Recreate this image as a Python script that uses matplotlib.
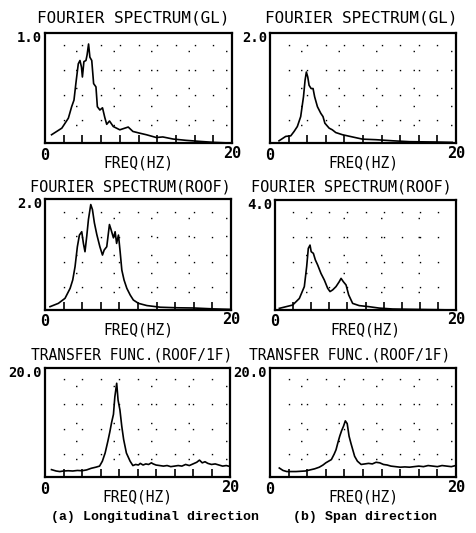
import matplotlib
matplotlib.use('Agg')
import matplotlib.pyplot as plt

# ---------------- data ----------------
titles = ["FOURIER SPECTRUM(GL)", "FOURIER SPECTRUM(GL)",
          "FOURIER SPECTRUM(ROOF)", "FOURIER SPECTRUM(ROOF)",
          "TRANSFER FUNC.(ROOF/1F)", "TRANSFER FUNC.(ROOF/1F)"]
ymax_labels = ["1.0", "2.0", "2.0", "4.0", "20.0", "20.0"]
ymax_values = [1.0, 2.0, 2.0, 4.0, 20.0, 20.0]
captions = ["(a) Longitudinal direction", "(b) Span direction"]
x_label = "FREQ(HZ)"
x_min_label, x_max_label = "0", "20"

gl_long_freq = [0.7, 1.8, 2.5, 2.85, 3.1, 3.3, 3.56, 3.74, 3.9, 4.0, 4.16, 4.38, 4.5, 4.66,
                4.8, 5.0, 5.2, 5.45, 5.6, 5.87, 6.15, 6.4, 6.6, 6.9, 7.3, 8.0, 8.9, 9.4,
                10.1, 10.85, 11.9, 12.6, 13.7, 15.1, 16.5, 18.0, 19.75]
gl_long_amp = [0.075, 0.135, 0.226, 0.33, 0.39, 0.54, 0.72, 0.75, 0.69, 0.60, 0.74, 0.75, 0.80,
               0.90, 0.78, 0.75, 0.54, 0.51, 0.33, 0.30, 0.32, 0.23, 0.17, 0.20, 0.15, 0.12,
               0.145, 0.105, 0.09, 0.075, 0.05, 0.055, 0.036, 0.024, 0.015, 0.006, 0.0]

gl_span_freq = [0.97, 1.69, 2.23, 2.59, 2.94, 3.3, 3.6, 3.77, 3.91, 4.06, 4.2, 4.42, 4.63, 4.8,
                5.1, 5.46, 5.7, 5.9, 6.36, 6.7, 7.07, 7.8, 8.87, 9.95, 11.4, 13.2, 15.0,
                17.8, 19.6]
gl_span_amp = [0.04, 0.12, 0.13, 0.21, 0.30, 0.48, 0.84, 1.14, 1.29, 1.20, 1.05, 0.99, 0.99,
               0.84, 0.66, 0.54, 0.48, 0.36, 0.27, 0.24, 0.19, 0.15, 0.11, 0.07, 0.06, 0.04,
               0.024, 0.018, 0.012]

roof_long_freq = [0.54, 1.44, 2.15, 2.7, 2.98, 3.23, 3.48, 3.7, 3.95, 4.13, 4.3, 4.49, 4.67,
                  4.92, 5.1, 5.31, 5.57, 5.9, 6.18, 6.36, 6.64, 6.93, 7.1, 7.36, 7.54, 7.7,
                  7.9, 8.08, 8.26, 8.5, 8.8, 9.16, 9.5, 10.05, 10.95, 12.4, 14.2, 16.0,
                  18.1, 19.9]
roof_long_amp = [0.06, 0.12, 0.21, 0.39, 0.54, 0.78, 1.14, 1.35, 1.41, 1.20, 1.05, 1.33, 1.63,
                 1.90, 1.81, 1.57, 1.36, 1.14, 0.99, 1.08, 1.14, 1.54, 1.45, 1.30, 1.41, 1.20,
                 1.35, 1.05, 0.72, 0.54, 0.39, 0.27, 0.18, 0.12, 0.08, 0.05, 0.04, 0.036,
                 0.02, 0.012]

roof_span_freq = [0.48, 1.95, 2.69, 3.24, 3.5, 3.68, 3.87, 4.0, 4.24, 4.46, 4.71, 5.08, 5.45,
                  5.82, 6.08, 6.37, 6.74, 7.1, 7.3, 7.55, 7.85, 8.14, 8.58, 9.3, 10.4, 11.5,
                  13.0, 15.2, 17.8, 19.8]
roof_span_amp = [0.06, 0.18, 0.42, 0.85, 1.58, 2.24, 2.36, 2.12, 2.06, 1.82, 1.64, 1.33, 1.09,
                 0.79, 0.67, 0.73, 0.85, 1.03, 1.15, 1.03, 0.91, 0.55, 0.24, 0.16, 0.12, 0.07,
                 0.036, 0.024, 0.012, 0.0]

tf_long_freq = [0.7, 1.2, 1.6, 2.0, 2.5, 3.0, 3.5, 4.0, 4.5, 5.0, 5.5, 5.9, 6.2, 6.5, 6.8, 7.0,
                7.2, 7.4, 7.55, 7.75, 7.9, 8.1, 8.3, 8.5, 8.8, 9.2, 9.5, 9.8, 10.1, 10.3, 10.6,
                10.9, 11.2, 11.5, 11.7, 12.0, 12.4, 12.8, 13.2, 13.6, 14.0, 14.4, 14.8, 15.2,
                15.6, 16.0, 16.4, 16.7, 17.0, 17.3, 17.6, 18.0, 18.4, 18.8, 19.2, 19.6, 19.95]
tf_long_amp = [1.35, 1.1, 1.0, 1.1, 1.15, 1.1, 1.2, 1.15, 1.3, 1.6, 1.8, 2.0, 2.9, 4.4, 6.6,
               8.2, 10.0, 11.5, 14.7, 17.2, 14.1, 12.3, 9.3, 6.9, 4.4, 2.9, 2.1, 2.3, 2.2, 2.5,
               2.2, 2.4, 2.3, 2.6, 2.4, 2.2, 2.1, 2.0, 2.1, 1.9, 2.0, 2.1, 2.0, 2.3, 2.1, 2.4,
               2.7, 3.1, 2.6, 2.8, 2.5, 2.3, 2.4, 2.2, 2.0, 2.1, 1.95]

tf_span_freq = [1.0, 1.4, 1.8, 2.3, 2.8, 3.3, 3.8, 4.3, 4.8, 5.3, 5.7, 6.0, 6.3, 6.6, 6.9, 7.1,
                7.3, 7.5, 7.7, 7.9, 8.1, 8.3, 8.5, 8.7, 8.9, 9.1, 9.4, 9.8, 10.2, 10.6, 11.0,
                11.4, 11.8, 12.2, 12.6, 13.0, 13.5, 14.0, 14.5, 15.0, 15.5, 16.0, 16.5, 17.0,
                17.5, 18.0, 18.5, 19.0, 19.5, 19.95]
tf_span_amp = [1.65, 1.2, 1.0, 1.0, 1.0, 1.05, 1.1, 1.3, 1.5, 1.8, 2.2, 2.6, 2.9, 3.2, 4.2, 5.0,
               6.3, 7.5, 8.5, 9.3, 10.3, 9.8, 7.5, 6.2, 5.0, 3.8, 2.9, 2.3, 2.4, 2.5, 2.4, 2.7,
               2.6, 2.3, 2.2, 2.0, 1.9, 1.8, 1.85, 1.8, 1.9, 2.0, 1.9, 2.1, 2.0, 1.9, 2.1, 2.0,
               1.9, 2.1]

series = [(gl_long_freq, gl_long_amp), (gl_span_freq, gl_span_amp),
          (roof_long_freq, roof_long_amp), (roof_span_freq, roof_span_amp),
          (tf_long_freq, tf_long_amp), (tf_span_freq, tf_span_amp)]

# ---------------- layout ----------------
W, H = 476, 533
fig = plt.figure(figsize=(W / 100, H / 100), dpi=100)
fig.patch.set_facecolor('white')

# pixel boxes (x0, x1, ytop, ybottom)
boxes = [(45, 232, 33, 143), (270, 456, 33, 143),
         (45, 231, 199, 310), (275, 456, 200, 310),
         (45, 230, 368, 477), (270, 456, 368, 477)]
title_pos = [(133, 18), (361, 18), (130, 187), (351, 187), (132, 355), (350, 355)]
title_size = [11.5, 11.5, 11, 11, 10.5, 10.5]

mono = 'DejaVu Sans Mono'

for i, ((x0, x1, yt, yb), (f, a)) in enumerate(zip(boxes, series)):
    ax = fig.add_axes([x0 / W, 1 - yb / H, (x1 - x0) / W, (yb - yt) / H])
    ax.set_xlim(0, 20)
    ax.set_ylim(0, ymax_values[i])
    # sparse dotted grid
    for gx in range(2, 20, 2):
        ax.axvline(gx, color='black', lw=1.0, ls=(2, (1, 17)), zorder=1)
    for k in range(1, 6):
        ax.axhline(ymax_values[i] * k / 6, color='black', lw=1.0, ls=(5, (1, 26)), zorder=1)
    ax.plot(f, a, color='black', lw=1.2, zorder=3)
    ax.set_xticks(range(2, 20, 2))
    ax.set_yticks([])
    ax.tick_params(axis='x', direction='in', length=6, width=1.2, labelbottom=False,
                   color='black')
    for s in ax.spines.values():
        s.set_linewidth(1.6)
        s.set_color('black')
    hpx = yb - yt
    ax.text(0, -12 / hpx, x_min_label, transform=ax.transAxes, ha='center', va='center',
            family=mono, fontsize=11, fontweight='bold')
    ax.text(1, -10 / hpx, x_max_label, transform=ax.transAxes, ha='center', va='center',
            family=mono, fontsize=11, fontweight='bold')
    ax.text(0.5, -20 / hpx, x_label, transform=ax.transAxes, ha='center', va='center',
            family=mono, fontsize=10.5)
    ax.text(-3 / (x1 - x0), 1 - 5 / hpx, ymax_labels[i], transform=ax.transAxes,
            ha='right', va='center', family=mono, fontsize=10, fontweight='bold')
    tx, ty = title_pos[i]
    fig.text(tx / W, 1 - ty / H, titles[i], ha='center', va='center', family=mono,
             fontsize=title_size[i])

fig.text(155 / W, 1 - 517 / H, captions[0], ha='center', va='center',
         family='Liberation Mono', fontweight='bold', fontsize=9.5)
fig.text(365 / W, 1 - 517 / H, captions[1], ha='center', va='center',
         family='Liberation Mono', fontweight='bold', fontsize=9.5)

fig.savefig('out.png', dpi=100, facecolor='white')
